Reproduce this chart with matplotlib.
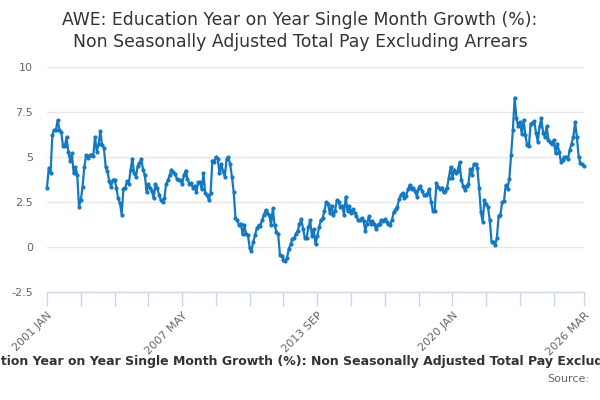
import matplotlib
matplotlib.use("Agg")
import matplotlib.pyplot as plt
import numpy as np

title = "AWE: Education Year on Year Single Month Growth (%):\nNon Seasonally Adjusted Total Pay Excluding Arrears"
bottom_title = "AWE: Education Year on Year Single Month Growth (%): Non Seasonally Adjusted Total Pay Excluding Arrears"
source_text = "Source:"

# Monthly values, 2001 JAN .. 2026 MAR
values = [
    3.3, 4.4, 4.1, 6.2, 6.5, 6.5, 7.05, 6.5, 6.4, 5.6, 5.6, 6.1,      # 2001
    5.3, 4.8, 5.2, 4.1, 4.45, 4.0, 2.25, 2.6, 3.35, 4.45, 5.1, 4.95,  # 2002
    5.1, 5.1, 5.05, 6.1, 5.3, 5.7, 6.45, 5.65, 5.5, 4.45, 4.2, 3.65,  # 2003
    3.35, 3.7, 3.75, 3.3, 2.7, 2.45, 1.8, 3.25, 3.3, 3.65, 3.5, 4.3,  # 2004
    4.9, 4.1, 3.9, 4.5, 4.65, 4.9, 4.3, 4.0, 3.05, 3.5, 3.3, 3.1,     # 2005
    2.7, 3.5, 3.3, 2.9, 2.6, 2.5, 2.7, 3.5, 3.7, 4.0, 4.3, 4.15,      # 2006
    4.05, 3.8, 3.75, 3.7, 3.5, 4.0, 4.25, 3.8, 3.5, 3.55, 3.3, 3.4,   # 2007
    3.05, 3.6, 3.6, 3.2, 4.1, 3.0, 2.9, 2.6, 3.0, 4.8, 4.75, 5.0,     # 2008
    4.9, 4.1, 4.6, 4.2, 3.9, 4.9, 5.0, 4.6, 3.9, 3.05, 1.6, 1.5,      # 2009
    1.2, 1.3, 0.7, 1.2, 0.7, 0.65, -0.05, -0.2, 0.3, 0.65, 1.05, 1.2, # 2010
    1.15, 1.5, 1.8, 2.05, 1.9, 1.8, 1.2, 2.15, 1.2, 0.85, 0.7, -0.45, # 2011
    -0.5, -0.7, -0.75, -0.6, -0.1, 0.15, 0.45, 0.5, 0.75, 0.9, 1.3, 1.55,  # 2012
    1.0, 0.5, 0.5, 1.1, 1.5, 0.6, 1.0, 0.15, 0.6, 1.1, 1.5, 1.6,      # 2013
    2.0, 2.5, 2.4, 1.9, 2.3, 1.8, 2.0, 2.6, 2.5, 2.2, 2.3, 1.8,       # 2014
    2.8, 2.0, 2.3, 1.9, 2.1, 1.9, 1.7, 1.5, 1.5, 1.6, 1.45, 0.9,      # 2015
    1.3, 1.7, 1.3, 1.45, 1.3, 1.0, 1.25, 1.3, 1.5, 1.45, 1.55, 1.4,   # 2016
    1.3, 1.2, 1.5, 1.95, 2.1, 2.25, 2.65, 2.9, 3.0, 2.75, 2.85, 3.2,  # 2017
    3.45, 3.2, 3.3, 3.1, 2.8, 3.3, 3.4, 3.1, 2.9, 2.9, 3.0, 3.2,      # 2018
    2.5, 2.0, 2.0, 3.55, 3.35, 3.2, 3.3, 3.05, 3.1, 3.3, 3.85, 4.45,  # 2019
    3.85, 4.3, 4.1, 4.25, 4.7, 3.75, 3.4, 3.15, 3.4, 3.5, 4.35, 4.0,  # 2020
    4.6, 4.6, 4.4, 3.3, 1.95, 1.4, 2.6, 2.4, 2.2, 1.5, 0.3, 0.3,      # 2021
    0.1, 0.5, 1.75, 1.8, 2.5, 2.55, 3.45, 3.25, 3.8, 5.1, 6.5, 8.3,   # 2022
    7.15, 6.7, 6.95, 6.3, 7.05, 6.25, 5.65, 5.6, 6.85, 6.9, 7.0, 6.35,  # 2023
    5.85, 6.7, 7.15, 6.35, 6.1, 6.7, 5.95, 5.85, 5.7, 5.95, 5.2, 5.75,  # 2024
    5.3, 4.75, 4.85, 5.0, 5.0, 4.9, 5.4, 5.75, 6.1, 6.95, 6.1, 5.0,   # 2025
    4.65, 4.6, 4.5,                                                   # 2026
]

tick_labels = ["2001 JAN", "2007 MAY", "2013 SEP", "2020 JAN", "2026 MAR"]
y_ticks = [-2.5, 0, 2.5, 5, 7.5, 10]
y_tick_labels = ["-2.5", "0", "2.5", "5", "7.5", "10"]

n = len(values)
x = np.arange(n)

fig = plt.figure(figsize=(6, 4), dpi=100)
ax = fig.add_axes([47 / 600, 1 - 292 / 400, (584 - 47) / 600, (292 - 67) / 400])

line_color = "#1479c0"
ax.plot(x, values, color=line_color, lw=1.6, marker="o", ms=3.0,
        markeredgewidth=0, zorder=3, clip_on=False)

ax.set_xlim(0, n - 1)
ax.set_ylim(-2.5, 10)

ax.set_yticks(y_ticks)
ax.set_yticklabels(y_tick_labels)
ax.grid(axis="y", color="#e6e6e6", lw=1)
ax.set_axisbelow(True)

minor_pos = list(range(0, n - 1 - 10, 19)) + [n - 1]
major_pos = [0, 76, 152, 228, n - 1]
ax.set_xticks(minor_pos, minor=True)
ax.set_xticks(major_pos)
ax.set_xticklabels(tick_labels)

ax.tick_params(axis="x", which="both", length=10, color="#ccd6eb", width=1,
               labelsize=8, labelcolor="#666666", pad=3, labelrotation=45)
ax.tick_params(axis="y", length=0, labelsize=8, labelcolor="#666666", pad=10)
for lbl in ax.get_xticklabels():
    lbl.set_horizontalalignment("right")
    lbl.set_rotation_mode("anchor")
    lbl.set_rotation(45)

for s in ["top", "right", "left"]:
    ax.spines[s].set_visible(False)
ax.spines["bottom"].set_color("#ccd6eb")
ax.spines["bottom"].set_linewidth(1)

fig.text(0.5, 1 - 31 / 400, title, ha="center", va="center", fontsize=12.4,
         color="#333333", linespacing=1.3)
fig.text(0.5, 1 - 361 / 400, bottom_title, ha="center", va="center",
         fontsize=9.0, fontweight="bold", color="#333333")
fig.text(589 / 600, 1 - 379 / 400, source_text, ha="right", va="center",
         fontsize=8, color="#666666")

fig.savefig("out.png", dpi=100)
